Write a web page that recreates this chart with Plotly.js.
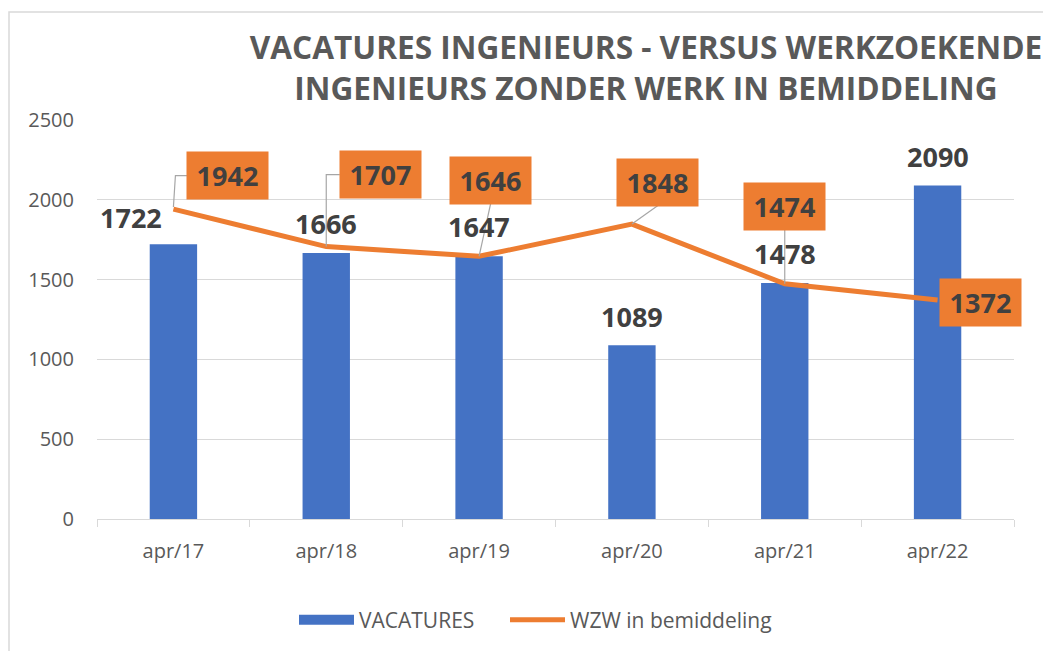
<!DOCTYPE html>
<html>
<head>
<meta charset="utf-8">
<script src="https://cdn.plot.ly/plotly-3.0.1.min.js"></script>
<style>html,body{margin:0;padding:0;background:#fff;}#chart{width:1043px;height:651px;}</style>
</head>
<body>
<div id="chart"></div>
<script>
const categories = ["apr/17", "apr/18", "apr/19", "apr/20", "apr/21", "apr/22"];
const vacatures = [1722, 1666, 1647, 1089, 1478, 2090];
const wzw = [1942, 1707, 1646, 1848, 1474, 1372];
const yTicks = [0, 500, 1000, 1500, 2000, 2500];

const FONT = "Open Sans, Noto Sans, sans-serif";
const BLUE = "#4472C4", ORANGE = "#ED7D31", GRID = "#D9D9D9", TXT = "#595959", LBL = "#404040";

// label placement (pixel offsets from the data point)
const barLabelShift = [[-42, 27], [0, 30], [0, 30], [0, 29], [0, 30], [0, 29]];
const lineBoxShift = [[54.5, 33.5], [54, 72], [11.5, 76], [25.5, 42], [0, 77.7], [42.5, -2.5]];
const leaderPaths = [
  "M 0 2 L 2 33.5 L 14 33.5",
  "M 0 0 L 0 72 L 13.5 72",
  "M 0 0 L 11.5 52.5",
  "M 0 0 L 26 18.5",
  "M 0 0 L 0 54",
  null
];

const traces = [
  {
    type: "bar", name: "VACATURES", x: categories, y: vacatures,
    marker: {color: BLUE}, hoverinfo: "x+y", showlegend: false
  },
  {
    // legend entry for the bars (wide rectangle swatch like the original)
    type: "scatter", mode: "lines", name: "VACATURES", x: [categories[0]], y: [null],
    line: {color: BLUE, width: 14}, hoverinfo: "skip", showlegend: true, legend: "legend"
  },
  {
    type: "scatter", mode: "lines", name: "WZW in bemiddeling", x: categories, y: wzw,
    line: {color: ORANGE, width: 5}, hoverinfo: "x+y", legend: "legend2"
  }
];

const annotations = [];
categories.forEach((c, i) => {
  annotations.push({
    x: c, y: vacatures[i], xref: "x", yref: "y", text: String(vacatures[i]),
    showarrow: false, xanchor: "center", yanchor: "middle",
    xshift: barLabelShift[i][0], yshift: barLabelShift[i][1],
    font: {family: FONT, size: 27, color: LBL, weight: "bold"}
  });
  annotations.push({
    x: c, y: wzw[i], xref: "x", yref: "y", text: String(wzw[i]),
    showarrow: false, xanchor: "center", yanchor: "middle",
    xshift: lineBoxShift[i][0], yshift: lineBoxShift[i][1],
    width: 81, height: 47, borderpad: 0, bgcolor: ORANGE,
    font: {family: FONT, size: 27, color: LBL, weight: "bold"}
  });
});

const shapes = [
  {type: "rect", xref: "paper", yref: "paper", x0: (9 - 97) / 917, x1: 1.1, y0: -0.5, y1: (519 - 12) / 399,
   line: {color: GRID, width: 1.5}, fillcolor: "rgba(0,0,0,0)", layer: "below"}
];
categories.forEach((c, i) => {
  if (!leaderPaths[i]) return;
  shapes.push({
    type: "path", xref: "x", yref: "y", xsizemode: "pixel", ysizemode: "pixel",
    xanchor: c, yanchor: wzw[i], path: leaderPaths[i],
    line: {color: "#A6A6A6", width: 1.2}, layer: "above"
  });
});

const legendCommon = {
  orientation: "h", yanchor: "middle", y: (519 - 620) / 399, xanchor: "left",
  font: {family: FONT, size: 21, color: TXT}, itemwidth: 55,
  bgcolor: "rgba(0,0,0,0)"
};

const layout = {
  width: 1043, height: 651,
  margin: {l: 97, r: 29, t: 120, b: 132, autoexpand: false},
  paper_bgcolor: "#fff", plot_bgcolor: "#fff",
  font: {family: FONT, color: TXT},
  title: {
    text: "VACATURES INGENIEURS - VERSUS WERKZOEKENDE<br>INGENIEURS ZONDER WERK IN BEMIDDELING",
    font: {family: FONT, size: 31.6, color: TXT, weight: "bold"},
    xref: "paper", x: (646 - 97) / 917, xanchor: "center",
    yref: "container", y: 0.91, yanchor: "top"
  },
  bargap: 0.69,
  xaxis: {
    type: "category", range: [-0.5, 5.5], autorange: false,
    showgrid: false, showline: true, linecolor: GRID, linewidth: 1,
    ticks: "outside", tickson: "boundaries", ticklen: 7, tickcolor: GRID, tickwidth: 1,
    tickfont: {family: FONT, size: 20, color: TXT}, ticklabelstandoff: 14, zeroline: false,
    fixedrange: true, automargin: false
  },
  yaxis: {
    range: [0, 2500], autorange: false, tickvals: yTicks, ticktext: yTicks.map(String),
    showgrid: true, gridcolor: GRID, gridwidth: 1, zeroline: false, showline: false,
    ticks: "", tickfont: {family: FONT, size: 20, color: TXT}, ticklabelstandoff: 22,
    fixedrange: true, automargin: false
  },
  showlegend: true,
  legend: Object.assign({}, legendCommon, {x: (301 - 97 - 7) / 917}),
  legend2: Object.assign({}, legendCommon, {x: (510 - 97 - 5) / 917}),
  annotations: annotations,
  shapes: shapes
};

Plotly.newPlot("chart", traces, layout, {displayModeBar: false, staticPlot: true});
</script>
</body>
</html>
